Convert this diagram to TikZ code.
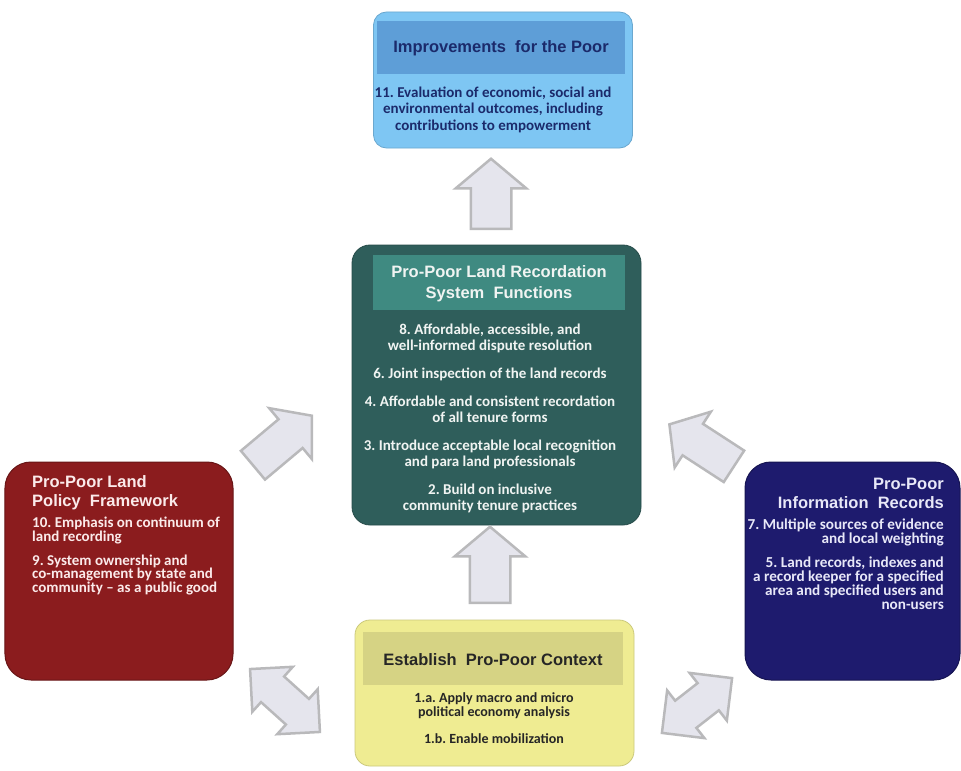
\documentclass[tikz,border=0pt]{standalone}
\usepackage{fontspec}
\setmainfont{Carlito}
\newfontfamily\headfont{Liberation Sans}
\usetikzlibrary{shapes.arrows}
\definecolor{bluefill}{HTML}{7EC6F3}
\definecolor{blueband}{HTML}{5E9ED7}
\definecolor{bluetext}{HTML}{1B2A6B}
\definecolor{tealfill}{HTML}{2F5E5B}
\definecolor{tealband}{HTML}{3F8A81}
\definecolor{tealtext}{HTML}{F0F4F2}
\definecolor{redfill}{HTML}{8B1C1E}
\definecolor{redtext}{HTML}{FBEAEA}
\definecolor{navyfill}{HTML}{1E1B6E}
\definecolor{navytext}{HTML}{E8E8F8}
\definecolor{yellowfill}{HTML}{EFEC92}
\definecolor{yellowband}{HTML}{D6D384}
\definecolor{yellowtext}{HTML}{262626}
\definecolor{arrowfill}{HTML}{E5E5ED}
\definecolor{arrowline}{HTML}{B9B9BB}
\begin{document}
\frenchspacing
\begin{tikzpicture}[x=1bp,y=-1bp,
  panel/.style={rectangle, rounded corners=#1, inner sep=0pt},
  band/.style={rectangle, inner sep=0pt},
  headtext/.style={font=\headfont\bfseries\fontsize{16.5bp}{21bp}\selectfont, inner sep=0pt},
  bodytext/.style 2 args={font=\bfseries\fontsize{#1}{#2}\selectfont, inner sep=0pt},
  blockarr/.style={single arrow, draw=arrowline, fill=arrowfill, line width=2.5bp,
    inner sep=0pt, inner ysep=#1, single arrow tip angle=100, anchor=tail},
  dblarr/.style={double arrow, draw=arrowline, fill=arrowfill, line width=2.5bp,
    inner sep=0pt, inner ysep=#1, double arrow tip angle=90}
]
\useasboundingbox (0,0) rectangle (961,771);
\fill[white] (0,0) rectangle (961,771);

% ---- top box
\node[panel=13bp, fill=bluefill, draw=bluefill!85!black, line width=0.8bp,
  minimum width=259bp, minimum height=136bp] (top) at (503,80) {};
\node[band, fill=blueband, minimum width=248bp, minimum height=53bp] (topband) at (501,47.5) {};
\node[headtext, text=bluetext] (toptitle) at (501,48) {Improvements\ \ for the Poor};
\node[bodytext={15bp}{16.5bp}, text=bluetext, align=center] (topbody) at (493,109.5)
  {11. Evaluation of economic, social and\\environmental outcomes, including\\contributions to empowerment};

% ---- centre box
\node[panel=18bp, fill=tealfill, draw=tealfill!80!black, line width=0.8bp,
  minimum width=289bp, minimum height=280bp] (centre) at (496.5,385) {};
\node[band, fill=tealband, minimum width=252bp, minimum height=55bp] (centreband) at (499,282.5) {};
\node[headtext, text=tealtext, align=center] (centretitle) at (499,284)
  {Pro-Poor Land Recordation\\System\ \ Functions};
\node[bodytext={15bp}{16bp}, text=tealtext, align=center] (centrebody) at (490,418)
  {8. Affordable, accessible, and\\well-informed dispute resolution\\[12bp]
   6. Joint inspection of the land records\\[12bp]
   4. Affordable and consistent recordation\\of all tenure forms\\[12bp]
   3. Introduce acceptable local recognition\\and para land professionals\\[12bp]
   2. Build on inclusive\\community tenure practices};

% ---- left box
\node[panel=26bp, fill=redfill, draw=redfill!75!black, line width=1bp,
  minimum width=228bp, minimum height=218bp] (left) at (119,571) {};
\node[headtext, text=redtext, align=left, anchor=west] (lefttitle) at (32,493)
  {Pro-Poor Land\\[-2bp]Policy\ \ Framework};
\node[bodytext={15bp}{13.5bp}, text=redtext, align=left, anchor=west] (leftbody) at (32,556)
  {10. Emphasis on continuum of\\land recording\\[10.5bp]
   9. System ownership and\\co-management by state and\\community -- as a public good};

% ---- right box
\node[panel=26bp, fill=navyfill, draw=navyfill!75!black, line width=1bp,
  minimum width=215bp, minimum height=218bp] (right) at (852.5,571) {};
\node[headtext, text=navytext, align=right, anchor=east] (righttitle) at (944,493)
  {Pro-Poor\\[-2bp]Information\ \ Records};
\node[bodytext={15.2bp}{14bp}, text=navytext, align=right, anchor=east] (rightbody) at (944,564)
  {7. Multiple sources of evidence\\and local weighting\\[10bp]
   5. Land records, indexes and\\a record keeper for a specified\\area and specified users and\\non-users};

% ---- bottom box
\node[panel=15bp, fill=yellowfill, draw=yellowfill!85!black, line width=0.8bp,
  minimum width=279bp, minimum height=146bp] (bottom) at (494.5,693) {};
\node[band, fill=yellowband, minimum width=260bp, minimum height=53bp] (bottomband) at (493,658.5) {};
\node[headtext, text=yellowtext] (bottomtitle) at (493,660) {Establish\ \ Pro-Poor Context};
\node[bodytext={14bp}{13.5bp}, text=yellowtext, align=center] (bottombody) at (494,718)
  {1.a. Apply macro and micro\\political economy analysis\\[13.5bp]
   1.b. Enable mobilization};

% ---- block arrows
\node[blockarr=19bp, minimum height=70bp, single arrow head extend=15bp, rotate=90]
  (arrtop) at (491,230) {};
\node[blockarr=19bp, minimum height=76bp, single arrow head extend=15bp, rotate=90]
  (arrcentre) at (490,604) {};
\node[blockarr=17.5bp, minimum height=77bp, single arrow head extend=14.5bp, rotate=40]
  (arrleft) at (252,466) {};
\node[blockarr=17.5bp, minimum height=77bp, single arrow head extend=14.5bp, rotate=147]
  (arrright) at (735,467) {};
\node[dblarr=16bp, minimum height=94bp, double arrow head extend=13bp, rotate=-42]
  (dblleft) at (285,700.5) {};
\node[dblarr=16bp, minimum height=89bp, double arrow head extend=13bp, rotate=38]
  (dblright) at (697,705.5) {};
\end{tikzpicture}
\end{document}
